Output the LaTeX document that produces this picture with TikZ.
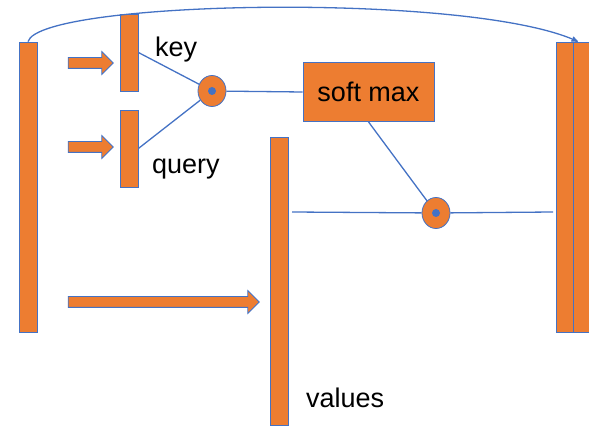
\documentclass[tikz,border=0pt]{standalone}
\usepackage{fontspec}
\setmainfont{Liberation Sans}
\usetikzlibrary{arrows}
\usetikzlibrary{shapes.geometric}
\usetikzlibrary{shapes.arrows}

\definecolor{barorange}{HTML}{ED7D31}
\definecolor{lineblue}{HTML}{4472C4}

\begin{document}
\begin{tikzpicture}[x=1pt,y=-1pt]
        \tikzset{
          >=stealth',
          bar/.style={
            draw=lineblue,
            fill=barorange,
            line width=0.8pt,
            inner sep=0pt,
            minimum width=18pt,
          },
          blockarrow/.style={
            single arrow,
            draw=lineblue,
            fill=barorange,
            line width=0.8pt,
            inner xsep=0pt,
            inner ysep=5pt,
            single arrow head extend=6pt,
            single arrow tip angle=90,
          },
          dotprod/.style={
            ellipse,
            draw=lineblue,
            fill=barorange,
            line width=0.8pt,
            inner sep=0pt,
            minimum width=28pt,
            minimum height=31pt,
          },
          dot/.style={circle, fill=lineblue, inner sep=0pt, minimum size=8pt},
          link/.style={draw=lineblue, line width=1.3pt},
          lbl/.style={anchor=base west, inner sep=0pt, font=\fontsize{27}{30}\selectfont},
        }
        \useasboundingbox (0,0) rectangle (589,427);

        \node[bar, minimum height=290pt] (inp) at (28,187) {};
        \node[bar, minimum height=77pt] (key) at (129,52.5) {};
        \node[bar, minimum height=77pt] (query) at (129,148.5) {};
        \node[bar, minimum height=288pt] (val) at (279,281) {};
        \node[bar, minimum width=17pt, minimum height=290pt] (outa) at (564.5,187) {};
        \node[bar, minimum width=16pt, minimum height=290pt] (outb) at (581,187) {};

        \node[blockarrow, minimum height=45pt] (ak) at (88,63) {};
        \node[blockarrow, minimum height=45pt] (aq) at (88,147) {};
        \node[blockarrow, minimum height=191pt] (av) at (161,302) {};

        \node[dotprod] (c1) at (212,91) {};
        \node[dot] at (c1) {};
        \node[dotprod] (c2) at (436,213) {};
        \node[dot] at (c2) {};

        \node[draw=lineblue, fill=barorange, line width=0.8pt,
              minimum width=131pt, minimum height=59pt, inner sep=0pt,
              font=\fontsize{27}{30}\selectfont] (sm) at (368.5,92) {soft max};

        \node[lbl] (keylbl) at (155,57) {key};
        \node[lbl] (querylbl) at (152,174) {query};
        \node[lbl] (vallbl) at (306,407) {values};

        \coordinate (vr) at (292,212);
        \coordinate (outl) at (553,212);

        \draw[link] (key.east) -- (c1);
        \draw[link] (query.east) -- (c1);
        \draw[link] (c1) -- (sm.west);
        \draw[link] (sm.south) -- (c2);
        \draw[link] (vr) -- (c2);
        \draw[link] (c2) -- (outl);
        \draw[link, -{stealth'[scale=1.3]}] (inp.north) .. controls (40,0) and (470,-8) .. ([xshift=-3pt]outb.north);
      \end{tikzpicture}
\end{document}
